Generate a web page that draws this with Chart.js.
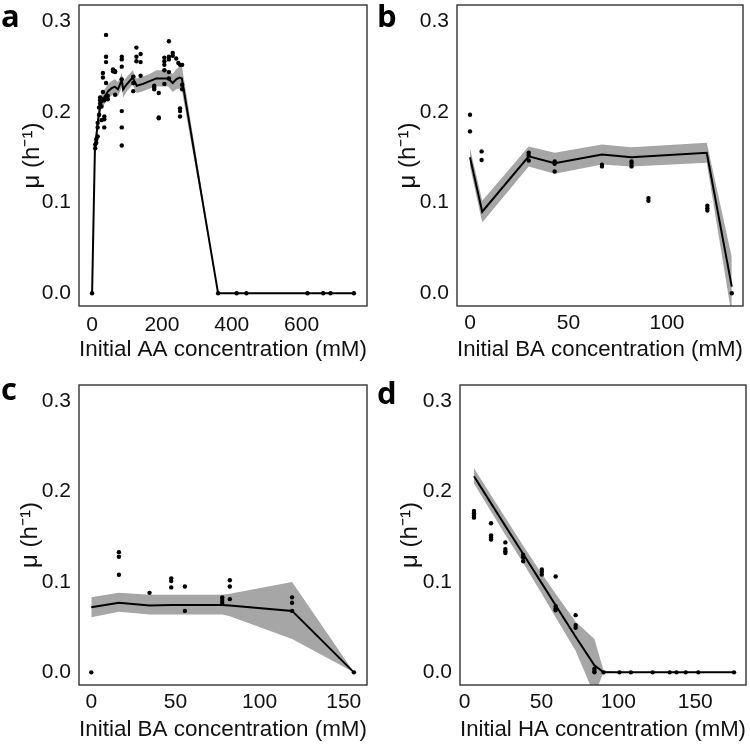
<!DOCTYPE html>
<html>
<head>
<meta charset="utf-8">
<script src="https://cdn.jsdelivr.net/npm/chart.js@4.4.1/dist/chart.umd.min.js"></script>
<style>
  html, body { margin: 0; padding: 0; background: #fff; }
  #wrap { position: relative; width: 750px; height: 744px; overflow: hidden; }
  canvas { position: absolute; }
  .lab { position: absolute; font-family: "Open Sans", sans-serif; font-weight: 700; font-size: 31px; line-height: 1; color: #000; }
</style>
</head>
<body>
<div id="wrap">
  <canvas id="ca" width="375" height="372" style="left:0;top:0;width:375px;height:372px"></canvas>
  <canvas id="cb" width="375" height="372" style="left:375px;top:0;width:375px;height:372px"></canvas>
  <canvas id="cc" width="375" height="372" style="left:0;top:372px;width:375px;height:372px"></canvas>
  <canvas id="cd" width="375" height="372" style="left:375px;top:372px;width:375px;height:372px"></canvas>
  <div class="lab" style="left:1px;top:0px">a</div>
  <div class="lab" style="left:377px;top:0px">b</div>
  <div class="lab" style="left:1px;top:373px">c</div>
  <div class="lab" style="left:377px;top:377px">d</div>
</div>
<script>
// ---------- shared ticks ----------
const yTicks = [0, 0.1, 0.2, 0.3];
const yTitle = "\u03bc (h\u207b\u00b9)";

// ---------- panel a : AA ----------
const aTitle = "Initial AA concentration (mM)";
const aTicksX = [0, 200, 400, 600];
const aPointX = [0, 9, 9, 12, 12, 16, 16, 16, 20, 20, 23, 23, 23, 27, 27, 27, 27,
  31, 31, 31, 31, 35, 35, 35, 35, 40, 40, 40, 40, 40, 45, 45, 60, 60, 66, 66, 66,
  85, 85, 85, 85, 85, 85, 85, 118, 118, 118, 127, 127, 127, 139, 139, 139,
  178, 178, 178, 191, 191, 191, 207, 207, 207, 207, 207, 220, 220, 220, 220, 220,
  231, 231, 241, 247, 252, 252, 252, 252, 258, 258, 258,
  361, 414, 442, 617, 662, 683, 750];
const aPointY = [0, 0.164, 0.160, 0.170, 0.166, 0.188, 0.183, 0.173, 0.205, 0.197, 0.213, 0.209, 0.216, 0.212, 0.214, 0.206, 0.191,
  0.243, 0.238, 0.222, 0.214, 0.213, 0.195, 0.192, 0.183, 0.285, 0.261, 0.255, 0.232, 0.215, 0.218, 0.214, 0.247, 0.245, 0.245, 0.244, 0.219,
  0.261, 0.258, 0.250, 0.236, 0.201, 0.183, 0.163, 0.239, 0.232, 0.223, 0.271, 0.261, 0.256, 0.264, 0.255, 0.240,
  0.229, 0.227, 0.225, 0.221, 0.194, 0.193, 0.260, 0.256, 0.252, 0.246, 0.231, 0.278, 0.261, 0.258, 0.244, 0.237,
  0.265, 0.262, 0.259, 0.254, 0.252, 0.204, 0.201, 0.195, 0.252, 0.230, 0.225,
  0, 0, 0, 0, 0, 0, 0];
const aFitX  = [0, 8, 17, 25, 36, 46, 55, 65, 74, 85, 89, 98, 116, 128, 146, 165, 184, 203, 218, 231, 241, 250, 257, 361, 414, 442, 617, 662, 683, 750];
const aFitY  = [0, 0.158, 0.191, 0.210, 0.217, 0.223, 0.226, 0.228, 0.225, 0.235, 0.225, 0.230, 0.238, 0.229, 0.231, 0.234, 0.237, 0.237, 0.237, 0.232, 0.236, 0.238, 0.237, 0, 0, 0, 0, 0, 0, 0];
const aFitHi = [0, 0.168, 0.200, 0.218, 0.225, 0.231, 0.234, 0.236, 0.233, 0.243, 0.234, 0.238, 0.246, 0.237, 0.239, 0.242, 0.246, 0.246, 0.246, 0.242, 0.247, 0.250, 0.251, 0, 0, 0, 0, 0, 0, 0];
const aFitLo = [0, 0.148, 0.182, 0.202, 0.209, 0.215, 0.218, 0.220, 0.217, 0.227, 0.216, 0.222, 0.230, 0.221, 0.223, 0.226, 0.228, 0.228, 0.228, 0.222, 0.225, 0.226, 0.224, 0, 0, 0, 0, 0, 0, 0];

// ---------- panel b : BA ----------
const bTitle = "Initial BA concentration (mM)";
const bTicksX = [0, 50, 100];
const bPointX = [0, 0, 5.9, 5.9, 29.8, 29.8, 29.8, 43, 43, 43, 67, 67, 82, 82, 82, 90.6, 90.6, 120.5, 120.5, 120.5, 132.9];
const bPointY = [0.197, 0.1786, 0.1565, 0.147, 0.155, 0.152, 0.1465, 0.1454, 0.1429, 0.1344, 0.1418, 0.140, 0.1454, 0.1429, 0.140, 0.105, 0.102, 0.0965, 0.0939, 0.0913, 0.0];
const bFitX  = [0, 6.2, 29.8, 43, 67, 82, 120.2, 132.9];
const bFitY  = [0.150, 0.090, 0.151, 0.1436, 0.153, 0.150, 0.155, 0.0073];
const bFitHi = [0.160, 0.102, 0.162, 0.155, 0.164, 0.161, 0.166, 0.040];
const bFitLo = [0.140, 0.078, 0.140, 0.132, 0.142, 0.140, 0.144, -0.025];

// ---------- panel c : BA ----------
const cTitle = "Initial BA concentration (mM)";
const cTicksX = [0, 50, 100, 150];
const cPointX = [0, 16.4, 16.4, 16.4, 34.6, 47.5, 47.5, 47.5, 55.6, 55.6, 77.8, 77.8, 77.8, 82.3, 82.3, 82.3, 119.3, 119.3, 119.3, 156];
const cPointY = [0, 0.133, 0.128, 0.108, 0.088, 0.104, 0.101, 0.094, 0.095, 0.068, 0.083, 0.080, 0.077, 0.102, 0.095, 0.081, 0.083, 0.077, 0.068, 0];
const cFitX  = [0, 16.4, 34.6, 47.5, 55.6, 77.8, 82.3, 119.3, 156];
const cFitY  = [0.072, 0.077, 0.074, 0.0745, 0.0745, 0.0745, 0.074, 0.068, 0];
const cFitHi = [0.083, 0.088, 0.086, 0.086, 0.086, 0.086, 0.087, 0.100, 0];
const cFitLo = [0.061, 0.067, 0.064, 0.064, 0.064, 0.064, 0.062, 0.037, 0];

// ---------- panel d : HA ----------
const dTitle = "Initial HA concentration (mM)";
const dTicksX = [0, 50, 100, 150];
const dPointX = [6.1, 6.1, 6.1, 6.1, 17.2, 17.2, 17.2, 17.2, 26.5, 26.5, 26.5, 26.5, 38.1, 38.1, 38.1,
  50.2, 50.2, 50.2, 59.2, 59.2, 59.2, 59.2, 72.2, 72.2, 72.2, 84.4, 84.4, 84.4, 90.4,
  100.7, 108.1, 122.3, 133.4, 137.8, 143.8, 152, 175.2];
const dPointY = [0.1786, 0.1760, 0.1734, 0.1712, 0.165, 0.1515, 0.1493, 0.1471, 0.1438, 0.1364, 0.1339, 0.132, 0.130, 0.1273, 0.123,
  0.1138, 0.1112, 0.1083, 0.106, 0.0732, 0.0706, 0.0688, 0.0633, 0.0523, 0.0494, 0.004, 0.0015, 0.0, 0,
  0, 0, 0, 0, 0, 0, 0, 0];
const dFitX  = [6.1, 17.2, 26.5, 38.1, 50.2, 59.2, 72.2, 84.4, 90.4, 100.7, 108.1, 122.3, 133.4, 137.8, 143.8, 152, 175.2];
const dFitY  = [0.217, 0.187, 0.162, 0.131, 0.0985, 0.0743, 0.0393, 0.0077, 0, 0, 0, 0, 0, 0, 0, 0, 0];
const dFitHi = [0.226, 0.196, 0.171, 0.140, 0.109, 0.087, 0.056, 0.037, 0.002, 0, 0, 0, 0, 0, 0, 0, 0];
const dFitLo = [0.209, 0.178, 0.152, 0.121, 0.087, 0.061, 0.024, -0.025, 0, 0, 0, 0, 0, 0, 0, 0, 0];

// ---------- helpers ----------
function pts(xs, ys) { return xs.map((x, i) => ({ x: x, y: ys[i] })); }

const boxPlugin = {
  id: 'box',
  afterDatasetsDraw(chart) {
    const a = chart.chartArea, ctx = chart.ctx;
    ctx.save();
    ctx.strokeStyle = '#333333';
    ctx.lineWidth = 1.4;
    ctx.strokeRect(a.left, a.top, a.right - a.left, a.bottom - a.top);
    ctx.restore();
  }
};

const FONT = "'Liberation Sans', Arial, sans-serif";

function makePanel(id, cfg) {
  const ctx = document.getElementById(id).getContext('2d');
  return new Chart(ctx, {
    type: 'line',
    data: {
      datasets: [
        { data: pts(cfg.px, cfg.py), showLine: false, pointRadius: 2.2, pointBackgroundColor: '#000', pointBorderWidth: 0, borderColor: '#000' },
        { data: pts(cfg.fx, cfg.fy), borderColor: '#000', borderWidth: 2, pointRadius: 0, fill: false, tension: 0 },
        { data: pts(cfg.fx, cfg.flo), borderWidth: 0, borderColor: 'rgba(0,0,0,0)', pointRadius: 0, fill: false, tension: 0 },
        { data: pts(cfg.fx, cfg.fhi), borderWidth: 0, borderColor: 'rgba(0,0,0,0)', pointRadius: 0, fill: { target: 2 }, backgroundColor: 'rgb(166,166,166)', tension: 0 }
      ]
    },
    options: {
      responsive: false,
      animation: false,
      devicePixelRatio: 1,
      events: [],
      layout: { padding: { left: 0, top: cfg.top, right: cfg.right, bottom: 0 } },
      plugins: { legend: { display: false }, tooltip: { enabled: false } },
      scales: {
        x: {
          type: 'linear', min: cfg.xmin, max: cfg.xmax,
          grid: { display: false, drawTicks: false },
          border: { display: false },
          afterBuildTicks: s => { s.ticks = cfg.xticks.map(v => ({ value: v })); },
          afterFit: s => { s.height = cfg.xh; s.paddingLeft = 0; s.paddingRight = 0; },
          ticks: { color: '#111', font: { family: FONT, size: 21 }, padding: cfg.xtp, maxRotation: 0, callback: v => String(v) },
          title: { display: true, text: cfg.title, color: '#111', font: { family: FONT, size: 22.5 }, padding: { top: 0, bottom: cfg.xtb } }
        },
        y: {
          type: 'linear', min: -0.014, max: 0.318,
          grid: { display: false, drawTicks: false },
          border: { display: false },
          afterBuildTicks: s => { s.ticks = yTicks.map(v => ({ value: v })); },
          afterFit: s => { s.width = cfg.yw; s.paddingTop = 0; s.paddingBottom = 0; },
          ticks: { color: '#111', font: { family: FONT, size: 21 }, padding: 8, callback: v => Number(v).toFixed(1) },
          title: { display: true, text: yTitle, color: '#111', font: { family: FONT, size: 24 }, padding: { top: cfg.ytp, bottom: 0 } }
        }
      }
    },
    plugins: [boxPlugin]
  });
}

makePanel('ca', { px: aPointX, py: aPointY, fx: aFitX, fy: aFitY, flo: aFitLo, fhi: aFitHi,
  xmin: -37.5, xmax: 787.5, xticks: aTicksX, title: aTitle, top: 5, right: 8, xh: 66, yw: 79, xtp: 7, xtb: 9, ytp: 17.5 });
makePanel('cb', { px: bPointX, py: bPointY, fx: bFitX, fy: bFitY, flo: bFitLo, fhi: bFitHi,
  xmin: -6.6, xmax: 138.6, xticks: bTicksX, title: bTitle, top: 5, right: 7, xh: 66, yw: 82, xtp: 5, xtb: 9, ytp: 19 });
makePanel('cc', { px: cPointX, py: cPointY, fx: cFitX, fy: cFitY, flo: cFitLo, fhi: cFitHi,
  xmin: -7.3, xmax: 163.8, xticks: cTicksX, title: cTitle, top: 13, right: 8, xh: 59, yw: 79, xtp: 5, xtb: 1, ytp: 15.5 });
makePanel('cd', { px: dPointX, py: dPointY, fx: dFitX, fy: dFitY, flo: dFitLo, fhi: dFitHi,
  xmin: -3, xmax: 183, xticks: dTicksX, title: dTitle, top: 13, right: 4, xh: 59, yw: 85, xtp: 5, xtb: 1, ytp: 20.5 });
</script>
</body>
</html>
